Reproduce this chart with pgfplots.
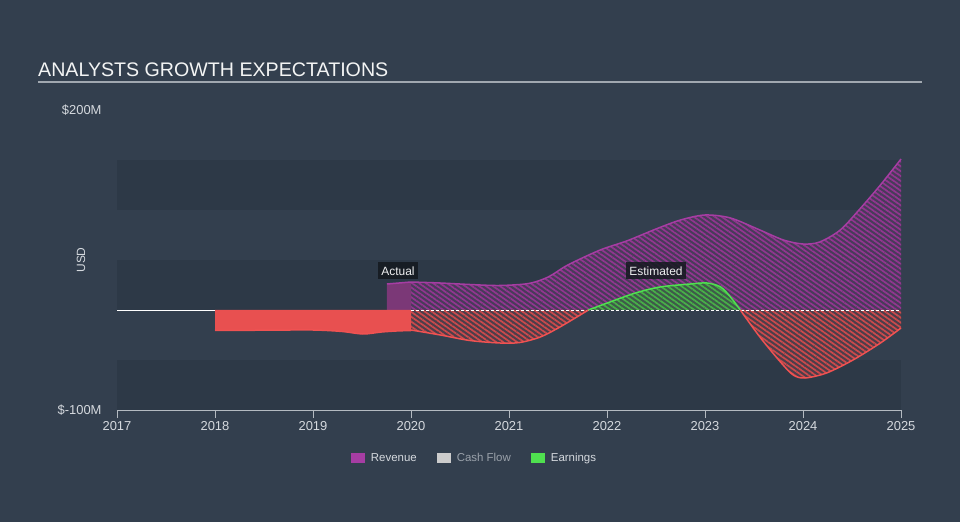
\documentclass[border=0pt]{standalone}
\usepackage{fontspec}
\setmainfont{Liberation Sans}
\usepackage{pgfplots}
\pgfplotsset{compat=1.18}
\usetikzlibrary{patterns.meta}

\definecolor{bg}{HTML}{333F4E}
\definecolor{band}{HTML}{2D3947}
\definecolor{rev}{HTML}{A63DA3}
\definecolor{revsolid}{HTML}{7B3877}
\definecolor{revdark}{HTML}{483B5A}
\definecolor{revhatch}{HTML}{923690}
\definecolor{earn}{HTML}{F05252}
\definecolor{earnsolid}{HTML}{E85050}
\definecolor{reddark}{HTML}{4C3E4A}
\definecolor{redhatch}{HTML}{CC4A4C}
\definecolor{grn}{HTML}{4FE04F}
\definecolor{grndark}{HTML}{3E5A4A}
\definecolor{grnhatch}{HTML}{48B048}
\definecolor{axisgray}{HTML}{B4BAC1}
\definecolor{txt}{HTML}{D5D9DE}
\definecolor{cfgray}{HTML}{CCCCCC}

\tikzset{hatch/.style={postaction={pattern={Lines[angle=-35,distance=4bp,line width=1.7bp]},pattern color=#1}}}

\begin{document}
\begin{tikzpicture}
\fill[bg] (-117bp,-112bp) rectangle (843bp,410bp);
\node[anchor=base west, text=white!94!bg, font=\fontsize{19.7}{22}\selectfont, inner sep=0] at (-79bp,333bp) {ANALYSTS GROWTH EXPECTATIONS};
\draw[color=axisgray!85!bg, line width=2bp] (-79bp,328bp) -- (805bp,328bp);
\begin{axis}[
  at={(0,0)}, anchor=south west, scale only axis,
  width=784bp, height=300bp,
  xmin=2017, xmax=2025, ymin=-100, ymax=200,
  axis x line*=bottom, axis y line*=left,
  y axis line style={draw=none},
  x axis line style={color=axisgray, line width=0.8bp},
  xtick={2017,2018,2019,2020,2021,2022,2023,2024,2025},
  xticklabels={2017,2018,2019,2020,2021,2022,2023,2024,2025},
  ytick={-100,200},
  yticklabels={\$-100M,\$200M},
  tick align=outside,
  x tick style={color=axisgray, line width=0.8bp},
  y tick style={draw=none},
  major tick length=8bp,
  /pgf/number format/assume math mode=true,
  tick label style={font=\fontsize{13}{15}\selectfont, text=txt},
  yticklabel style={anchor=east, xshift=-4bp},
  ylabel={USD},
  every axis y label/.style={at={(axis description cs:-0.0459,0.5)}, rotate=90, anchor=center, font=\fontsize{12}{14}\selectfont, text=txt},
  clip=false,
  legend style={at={(axis description cs:0.456,-0.16)}, anchor=center, draw=none, fill=none,
    font=\fontsize{11.5}{13}\selectfont, text=txt,
    /tikz/every odd column/.append style={column sep=4bp},
    /tikz/every even column/.append style={column sep=18bp}},
  legend columns=3,
  legend image code/.code={\fill[#1] (0bp,-4.5bp) rectangle (14bp,5bp);},
]
% background bands
\addplot[forget plot, draw=none, fill=band] coordinates {(2017,100)(2025,100)(2025,150)(2017,150)} -- cycle;
\addplot[forget plot, draw=none, fill=band] coordinates {(2017,0)(2025,0)(2025,50)(2017,50)} -- cycle;
\addplot[forget plot, draw=none, fill=band] coordinates {(2017,-100)(2025,-100)(2025,-50)(2017,-50)} -- cycle;

% revenue estimated fill
\addplot[forget plot, draw=none, fill=revdark, hatch=revhatch, smooth, tension=0.5] coordinates {
(2020.0,28) (2020.3,27) (2020.6,25.5) (2020.9,24.5) (2021.2,26.5) (2021.4,33) (2021.6,45) (2021.93,60) (2022.2,69) (2022.5,81) (2022.75,90) (2023.0,95) (2023.26,92) (2023.56,80) (2023.8,70) (2024.0,66) (2024.17,68) (2024.38,80) (2024.58,101) (2024.79,125) (2025.0,151)
} \closedcycle;
% revenue actual fill
\addplot[forget plot, draw=none, fill=revsolid] coordinates {(2019.755,26) (2020.0,28)} \closedcycle;

% earnings estimated fills
\addplot[forget plot, draw=none, fill=reddark, hatch=redhatch, smooth, tension=0.5] coordinates {
(2020,-20) (2020.3,-25) (2020.6,-30.5) (2020.91,-33) (2021.11,-32.5) (2021.32,-27) (2021.52,-17) (2021.81,0)
} \closedcycle;
\addplot[forget plot, draw=none, fill=grndark, hatch=grnhatch, smooth, tension=0.5] coordinates {
(2021.81,0) (2022.03,8) (2022.29,17) (2022.54,23) (2022.85,26) (2023.02,27) (2023.16,23) (2023.26,13) (2023.36,0)
} \closedcycle;
\addplot[forget plot, draw=none, fill=reddark, hatch=redhatch, smooth, tension=0.5] coordinates {
(2023.36,0) (2023.56,-27) (2023.77,-52) (2023.9,-65) (2024.02,-68) (2024.24,-63) (2024.51,-50) (2024.79,-33) (2025,-18)
} \closedcycle;
% earnings actual fill
\addplot[forget plot, draw=none, fill=earnsolid, smooth, tension=0.5] coordinates {
(2018,-20.5) (2018.5,-20.2) (2019,-20) (2019.3,-21.5) (2019.51,-24) (2019.7,-22) (2019.85,-21) (2020,-20.5)
} \closedcycle;

% zero lines
\addplot[forget plot, white, line width=0.8bp] coordinates {(2017,0) (2018,0)};
\addplot[forget plot, white, line width=0.8bp, dash pattern=on 3bp off 2bp] coordinates {(2020,0) (2025,0)};

% lines
\addplot[forget plot, rev, line width=1.5bp] coordinates {(2019.755,26) (2020.0,28)};
\addplot[forget plot, rev, line width=1.5bp, smooth, tension=0.5] coordinates {
(2020.0,28) (2020.3,27) (2020.6,25.5) (2020.9,24.5) (2021.2,26.5) (2021.4,33) (2021.6,45) (2021.93,60) (2022.2,69) (2022.5,81) (2022.75,90) (2023.0,95) (2023.26,92) (2023.56,80) (2023.8,70) (2024.0,66) (2024.17,68) (2024.38,80) (2024.58,101) (2024.79,125) (2025.0,151)
};
\addplot[forget plot, earn, line width=1.5bp, smooth, tension=0.5] coordinates {
(2018,-20.5) (2018.5,-20.2) (2019,-20) (2019.3,-21.5) (2019.51,-24) (2019.7,-22) (2019.85,-21) (2020,-20.5)
};
\addplot[forget plot, earn, line width=1.5bp, smooth, tension=0.5] coordinates {
(2020,-20) (2020.3,-25) (2020.6,-30.5) (2020.91,-33) (2021.11,-32.5) (2021.32,-27) (2021.52,-17) (2021.81,0)
};
\addplot[forget plot, grn, line width=1.5bp, smooth, tension=0.5] coordinates {
(2021.81,0) (2022.03,8) (2022.29,17) (2022.54,23) (2022.85,26) (2023.02,27) (2023.16,23) (2023.26,13) (2023.36,0)
};
\addplot[forget plot, earn, line width=1.5bp, smooth, tension=0.5] coordinates {
(2023.36,0) (2023.56,-27) (2023.77,-52) (2023.9,-65) (2024.02,-68) (2024.24,-63) (2024.51,-50) (2024.79,-33) (2025,-18)
};

% annotations
\node[fill=black!60!bg, fill opacity=0.85, text opacity=1, text=white!92!bg, font=\fontsize{12}{14}\selectfont, inner sep=3bp, minimum height=17bp] at (axis cs:2019.867,39) {Actual};
\node[fill=black!60!bg, fill opacity=0.85, text opacity=1, text=white!92!bg, font=\fontsize{12}{14}\selectfont, inner sep=3bp, minimum height=17bp] at (axis cs:2022.5,39) {Estimated};

% legend
\addlegendimage{fill=rev, draw=none}
\addlegendentry{Revenue}
\addlegendimage{fill=cfgray, draw=none}
\addlegendentry{\textcolor{axisgray!80!bg}{Cash Flow}}
\addlegendimage{fill=grn, draw=none}
\addlegendentry{Earnings}
\end{axis}
\end{tikzpicture}
\end{document}
